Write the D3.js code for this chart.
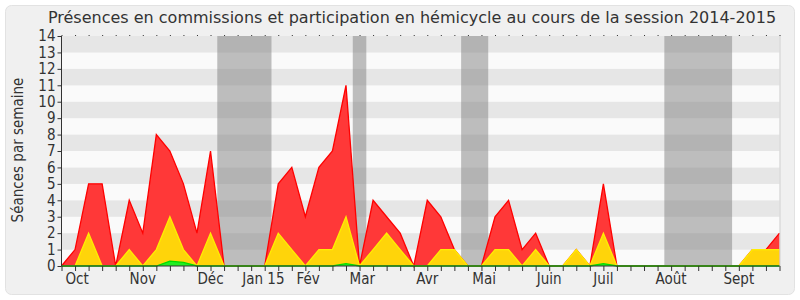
<!DOCTYPE html>
<html>
<head>
<meta charset="utf-8">
<script src="https://cdn.jsdelivr.net/npm/d3@7"></script>
<style>
  body { margin: 0; background: #ffffff; }
  text { font-family: "DejaVu Sans Condensed", "DejaVu Sans", sans-serif; font-stretch: condensed; fill: #333; }
  text.title { font-family: "DejaVu Sans", sans-serif; font-stretch: normal; }
</style>
</head>
<body>
<script>
var w = 800;
var h = 300;

// séances par semaine, une valeur par semaine (54 semaines)
var totalSeances = [0,1,5,5,0,4,2,8,7,5, 2,7,0,0,0,0,5,6,3,6, 7,11,0,4,3,2,0,4,3,1, 0,0,3,4,1,2,0,0,1,0, 5,0,0,0,0,0,0,0,0,0, 0,1,1,2];
var commissions  = [0,0,2,0,0,1,0,1,3,1, 0,2,0,0,0,0,2,1,0,1, 1,3,0,1,2,1,0,0,1,1, 0,0,1,1,0,1,0,0,1,0, 2,0,0,0,0,0,0,0,0,0, 0,1,1,1];
var hemicycle    = [0,0,0,0,0,0,0,0,0.3,0.22, 0,0,0,0,0,0,0,0,0,0, 0,0.14,0,0,0,0,0,0,0,0, 0,0,0,0,0,0,0,0,0,0, 0.14,0,0,0,0,0,0,0,0,0, 0,0,0,0];

// vacances parlementaires (en semaines)
var vacStart = [11.5, 21.5, 29.5, 44.5];
var vacEnd   = [15.5, 22.5, 31.5, 49.5];

var monthLabels = ["Oct","Nov","Déc","Jan 15","Fév","Mar","Avr","Mai","Juin","Juil","Août","Sept"];
var monthPos    = [1.15, 6.0, 11.0, 14.9, 18.2, 22.2, 27.0, 31.2, 36.0, 40.0, 45.0, 50.0];

var yTicks = d3.range(0, 15);

var pLeft = 61.5, pRight = 779.5, pTop = 36, pBottom = 266;

var svg = d3.select("body").append("svg")
    .attr("width", w)
    .attr("height", h);

svg.append("rect")
  .attr("x", 5.5).attr("y", 5.5)
  .attr("width", 789).attr("height", 289)
  .attr("rx", 6)
  .attr("fill", "#f0f0f0")
  .attr("stroke", "#e2e2e2");

var x = d3.scaleLinear()
  .domain([0, totalSeances.length - 1])
  .range([pLeft, pRight]);

var y = d3.scaleLinear()
  .domain([0, 14])
  .range([pBottom, pTop]);

// bandes horizontales
svg.append("g").selectAll("rect")
  .data(d3.range(0, 14))
  .enter().append("rect")
  .attr("x", pLeft)
  .attr("width", pRight - pLeft)
  .attr("y", function(d) { return y(d + 1); })
  .attr("height", function(d) { return y(d) - y(d + 1); })
  .attr("fill", function(d) { return d % 2 ? "#e6e6e6" : "#fafafa"; });

// vacances
svg.append("g").selectAll("rect")
  .data(vacStart)
  .enter().append("rect")
  .attr("x", function(d) { return x(d); })
  .attr("width", function(d, i) { return x(vacEnd[i]) - x(d); })
  .attr("y", pTop)
  .attr("height", pBottom - pTop)
  .attr("fill", "rgba(128,128,128,0.5)");

var idx = d3.range(totalSeances.length);

function drawSerie(values, fill, stroke) {
  var area = d3.area()
    .x(function(d) { return x(d); })
    .y0(y(0))
    .y1(function(d) { return y(values[d]); });
  var line = d3.line()
    .x(function(d) { return x(d); })
    .y(function(d) { return y(values[d]); });
  svg.append("path")
    .attr("d", area(idx))
    .attr("fill", fill);
  svg.append("path")
    .attr("d", line(idx))
    .attr("fill", "none")
    .attr("stroke", stroke)
    .attr("stroke-width", 1.3);
}

drawSerie(totalSeances, "#ff3838", "#ff0000");
drawSerie(commissions, "#ffd40a", "#ffee00");
drawSerie(hemicycle, "#22ee22", "#00dd00");

// bord droit
svg.append("line")
  .attr("x1", pRight + 0.5).attr("x2", pRight + 0.5)
  .attr("y1", pTop).attr("y2", pBottom)
  .attr("stroke", "#d0d0d0");

// axe y
var yAxis = svg.append("g")
  .attr("transform", "translate(" + pLeft + ",0)")
  .call(d3.axisLeft(y).tickValues(yTicks).tickSize(4).tickPadding(2).tickFormat(d3.format("d")));
yAxis.select(".domain").attr("stroke", "#333").attr("d", "M0," + pTop + "V" + pBottom);
yAxis.selectAll(".tick line").attr("stroke", "#333");
yAxis.selectAll("text").attr("font-size", 15).attr("fill", "#333");

// axe x (semaines)
var xAxis = svg.append("g")
  .attr("transform", "translate(0," + pBottom + ")")
  .call(d3.axisBottom(x).tickValues(idx).tickSize(5).tickFormat(""));
xAxis.select(".domain").attr("stroke", "#333").attr("d", "M" + pLeft + ",0H" + pRight);
xAxis.selectAll(".tick line").attr("stroke", "#333");

// petites marques en haut
var xTop = svg.append("g")
  .attr("transform", "translate(0," + pTop + ")")
  .call(d3.axisTop(x).tickValues(idx).tickSize(1).tickFormat(""));
xTop.select(".domain").remove();
xTop.selectAll(".tick line").attr("stroke", "#333");

svg.append("g").selectAll("text")
  .data(monthLabels)
  .enter().append("text")
  .attr("x", function(d, i) { return x(monthPos[i]); })
  .attr("y", 284)
  .attr("text-anchor", "middle")
  .attr("font-size", 15)
  .text(function(d) { return d; });

svg.append("text")
  .attr("class", "title")
  .attr("x", 412)
  .attr("y", 23)
  .attr("text-anchor", "middle")
  .attr("font-size", 16)
  .text("Présences en commissions et participation en hémicycle au cours de la session 2014-2015");

svg.append("text")
  .attr("transform", "translate(23,150) rotate(-90)")
  .attr("text-anchor", "middle")
  .attr("font-size", 15)
  .text("Séances par semaine");
</script>
</body>
</html>
